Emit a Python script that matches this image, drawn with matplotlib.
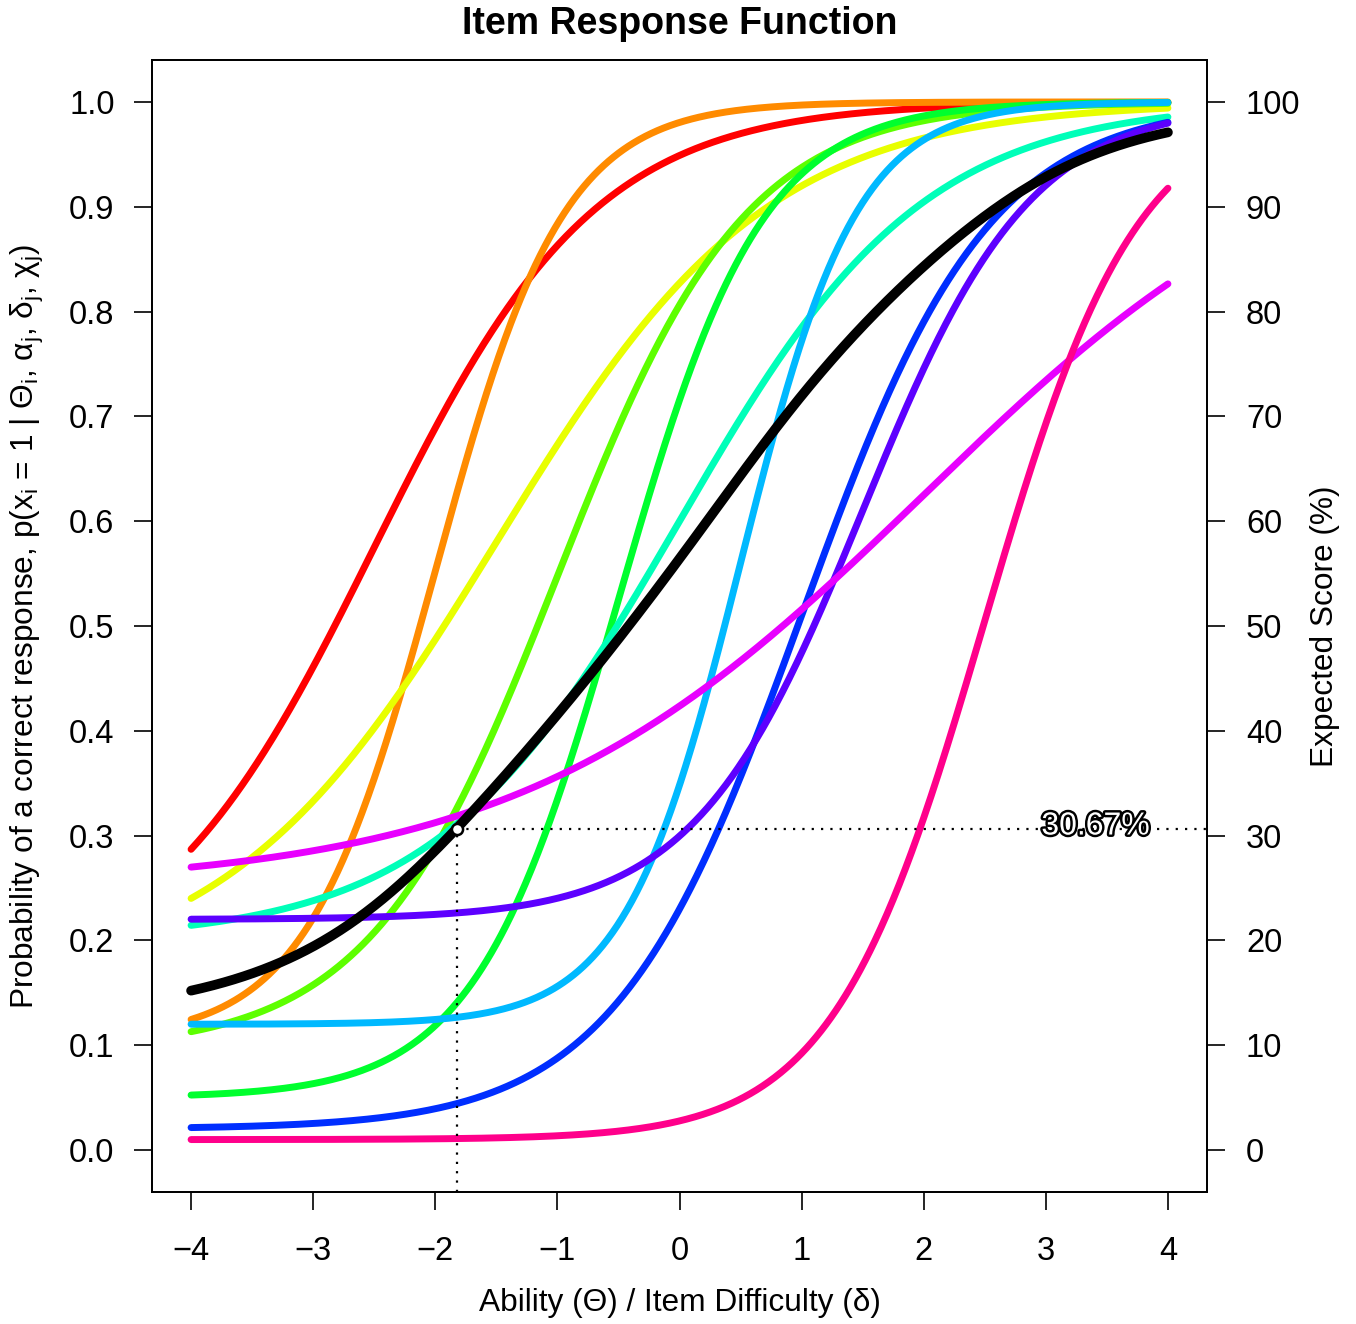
import numpy as np
import matplotlib
matplotlib.use("Agg")
import matplotlib.pyplot as plt
import matplotlib.patheffects as pe

plt.rcParams['font.family'] = ['Liberation Sans', 'DejaVu Sans']
plt.rcParams['mathtext.fontset'] = 'custom'
plt.rcParams['mathtext.rm'] = 'Liberation Sans'
plt.rcParams['mathtext.it'] = 'Liberation Sans'

# ---- data: 3PL item parameters (logistic metric) ----
item_colors = ["#FF0000", "#FF8B00", "#E8FF00", "#5DFF00", "#00FF2E", "#00FFB9",
               "#00B9FF", "#002EFF", "#5D00FF", "#E800FF", "#FF008B"]
alpha = [1.10, 1.90, 0.90, 1.30, 1.70, 1.00, 2.10, 1.30, 1.45, 0.60, 1.60]   # discrimination
delta = [-2.5, -2.0, -1.5, -1.0, -0.5, 0.0, 0.5, 1.0, 1.5, 2.0, 2.5]         # difficulty
chi = [0.15, 0.105, 0.16, 0.095, 0.05, 0.20, 0.12, 0.02, 0.22, 0.25, 0.01]    # guessing
marked_score = 0.3067          # expected score highlighted on the curve (30.67 %)
x_ticks = [-4, -3, -2, -1, 0, 1, 2, 3, 4]
y_ticks = [0.0, 0.1, 0.2, 0.3, 0.4, 0.5, 0.6, 0.7, 0.8, 0.9, 1.0]
y2_ticks = [0, 10, 20, 30, 40, 50, 60, 70, 80, 90, 100]


def irf(th, a, b, c):
    return c + (1 - c) / (1 + np.exp(-a * (th - b)))


def tcc_at(th):
    return np.mean([irf(th, a, b, c) for a, b, c in zip(alpha, delta, chi)])


# ability at which the test characteristic curve reaches the marked score (bisection)
lo, hi = -4.0, 4.0
for _ in range(80):
    mid = 0.5 * (lo + hi)
    if tcc_at(mid) < marked_score:
        lo = mid
    else:
        hi = mid
theta_marked = 0.5 * (lo + hi)
score = tcc_at(theta_marked)

W, H = 1356, 1324
fig = plt.figure(figsize=(W / 100, H / 100), dpi=100)
L, R, T, B = 152, 1207, 60, 1192
ax = fig.add_axes([L / W, 1 - B / H, (R - L) / W, (B - T) / H])

theta = np.linspace(-4, 4, 801)
curves = []
for a, b, c, col in zip(alpha, delta, chi, item_colors):
    p = irf(theta, a, b, c)
    curves.append(p)
    ax.plot(theta, p, color=col, lw=5, solid_capstyle='round', zorder=2)
tcc = np.mean(curves, axis=0)
ax.plot(theta, tcc, color='black', lw=7, solid_capstyle='round', zorder=3)

xlo, xhi = -4.32, 4.32
ylo, yhi = -0.04, 1.04
ax.plot([theta_marked, theta_marked], [ylo, score], color='black', lw=1.6,
        linestyle=(0, (1, 3.2)), zorder=4, clip_on=False)
ax.plot([theta_marked, xhi], [score, score], color='black', lw=1.6,
        linestyle=(0, (1, 3.2)), zorder=4, clip_on=False)
ax.plot([theta_marked], [score], 'o', ms=8, mfc='white', mec='black', mew=1.8, zorder=5)
ax.text(4 - 0.15, score + 0.002, f"{score * 100:.2f}%", ha='right', va='center',
        fontsize=23, color='white', zorder=6,
        path_effects=[pe.Stroke(linewidth=3.5, foreground='black'), pe.Normal()])

ax.set_xlim(xlo, xhi)
ax.set_ylim(ylo, yhi)
ax.set_xticks(x_ticks)
ax.set_yticks(y_ticks)
ax.set_yticklabels([f"{v:.1f}" for v in y_ticks])
ax.tick_params(direction='out', length=13, width=1.2, labelsize=23.5, colors='black')
ax.tick_params(axis='x', pad=19)
ax.tick_params(axis='y', pad=14)
for s in ax.spines.values():
    s.set_linewidth(1.3)

ax2 = ax.twinx()
ax2.set_ylim(ylo * 100, yhi * 100)
ax2.set_yticks(y2_ticks)
ax2.tick_params(direction='out', length=13, width=1.2, labelsize=23.5, pad=15)
for s in ax2.spines.values():
    s.set_linewidth(1.3)

fig.text((L + R) / 2 / W, 1 - 1303 / H, "Ability (Θ) / Item Difficulty (δ)",
         ha='center', va='center', fontsize=22.8)
fig.text(27 / W, 1 - (T + B) / 2 / H,
         r"Probability of a correct response, p(x$_\mathregular{i}$ = 1 | Θ$_\mathregular{i}$, "
         r"α$_\mathregular{j}$, δ$_\mathregular{j}$, χ$_\mathregular{j}$)",
         ha='center', va='center', rotation=90, fontsize=22.8)
fig.text(1325 / W, 1 - (T + B) / 2 / H, "Expected Score (%)",
         ha='center', va='center', rotation=90, fontsize=22.8)

fig.text((L + R) / 2 / W, 1 - 24 / H, "Item Response Function", ha='center', va='center',
         fontsize=27, fontweight='bold')

fig.savefig("out.png", dpi=100)
